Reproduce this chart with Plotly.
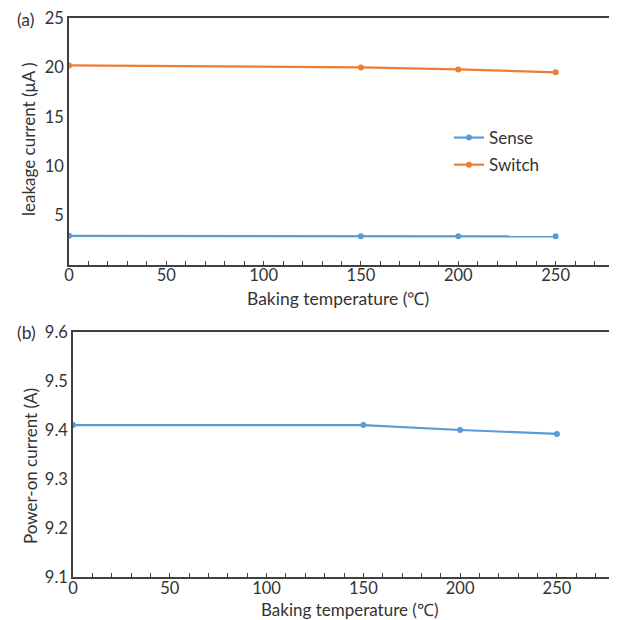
import plotly.graph_objects as go

temps = [0, 150, 200, 250]
sense_leak = [2.95, 2.9, 2.9, 2.9]
switch_leak = [20.2, 20.0, 19.8, 19.5]
power_on = [9.41, 9.41, 9.40, 9.392]

BLUE = "#5B9BD5"
ORANGE = "#ED7D31"
FONT = "Lato"
TXT = "#333333"
AX = "#404040"
OFF = 8                      # page body margin
W, H = 617 - OFF, 620 - OFF  # figure size inside the page

fig = go.Figure()
fig.add_trace(go.Scatter(x=temps, y=sense_leak, name="Sense", mode="lines+markers",
                         legendgroup="g1",
                         line=dict(color=BLUE, width=2.2), marker=dict(size=6, color=BLUE),
                         xaxis="x", yaxis="y"))
fig.add_trace(go.Scatter(x=temps, y=switch_leak, name="Switch", mode="lines+markers",
                         legendgroup="g2",
                         line=dict(color=ORANGE, width=2.2), marker=dict(size=6, color=ORANGE),
                         xaxis="x", yaxis="y"))
fig.add_trace(go.Scatter(x=temps, y=power_on, name="Power-on", mode="lines+markers",
                         line=dict(color=BLUE, width=2.2), marker=dict(size=6, color=BLUE),
                         showlegend=False, xaxis="x2", yaxis="y2"))

def px_x(p):
    return (p - OFF) / W

def px_y(p):
    return 1 - (p - OFF) / H

axis_common = dict(showline=True, linecolor=AX, linewidth=1.6, mirror=True,
                   showgrid=False, zeroline=False, automargin=False,
                   ticklabeloverflow="allow",
                   tickfont=dict(family=FONT, size=16.5, color=TXT))

xa = dict(axis_common, range=[0, 280], tickvals=[0, 50, 100, 150, 200, 250],
          ticks="inside", ticklen=4, tickcolor=AX,
          minor=dict(ticks="inside", dtick=10, ticklen=4, tickcolor=AX))

fig.update_layout(
    width=W, height=H, margin=dict(l=0, r=0, t=0, b=0, autoexpand=False),
    paper_bgcolor="white", plot_bgcolor="white",
    font=dict(family=FONT, color=TXT),
    xaxis=dict(xa, domain=[px_x(69), px_x(614)], anchor="y", ticklabelstandoff=-6),
    yaxis=dict(axis_common, range=[0, 25], tickvals=[5, 10, 15, 20, 25], ticks="",
               domain=[px_y(265), px_y(18)], anchor="x"),
    xaxis2=dict(xa, domain=[px_x(73), px_x(615)], anchor="y2", ticklabelstandoff=-5),
    yaxis2=dict(axis_common, range=[9.1, 9.6], tickvals=[9.1, 9.2, 9.3, 9.4, 9.5, 9.6],
                tickformat=".1f", ticks="", domain=[px_y(577), px_y(332)], anchor="x2"),
    legend=dict(x=px_x(449), y=px_y(120), xanchor="left", yanchor="top",
                bgcolor="rgba(0,0,0,0)", font=dict(family=FONT, size=17, color=TXT),
                tracegroupgap=2),
    showlegend=True,
)

annos = [
    dict(text="(a)", x=px_x(15), y=px_y(19), xanchor="left", size=17.5),
    dict(text="(b)", x=px_x(15), y=px_y(332), xanchor="left", size=17.5),
    dict(text="Baking temperature (℃)", x=px_x(338), y=px_y(298), xanchor="center", size=17.5),
    dict(text="Baking temperature (℃)", x=px_x(349), y=px_y(609), xanchor="center", size=17),
]
for a in annos:
    fig.add_annotation(text=a["text"], x=a["x"], y=a["y"], xref="paper", yref="paper",
                       xanchor=a["xanchor"], yanchor="middle", showarrow=False,
                       font=dict(family=FONT, size=a["size"], color=TXT))

fig.add_annotation(text="leakage current (μA )", x=px_x(28), y=px_y(139), xref="paper", yref="paper",
                   xanchor="center", yanchor="middle",
                   textangle=-90, showarrow=False, font=dict(family=FONT, size=17, color=TXT))
fig.add_annotation(text="Power-on current (A)", x=px_x(30), y=px_y(466), xref="paper", yref="paper",
                   xanchor="center", yanchor="middle",
                   textangle=-90, showarrow=False, font=dict(family=FONT, size=17, color=TXT))

fig.write_html("out.html")
